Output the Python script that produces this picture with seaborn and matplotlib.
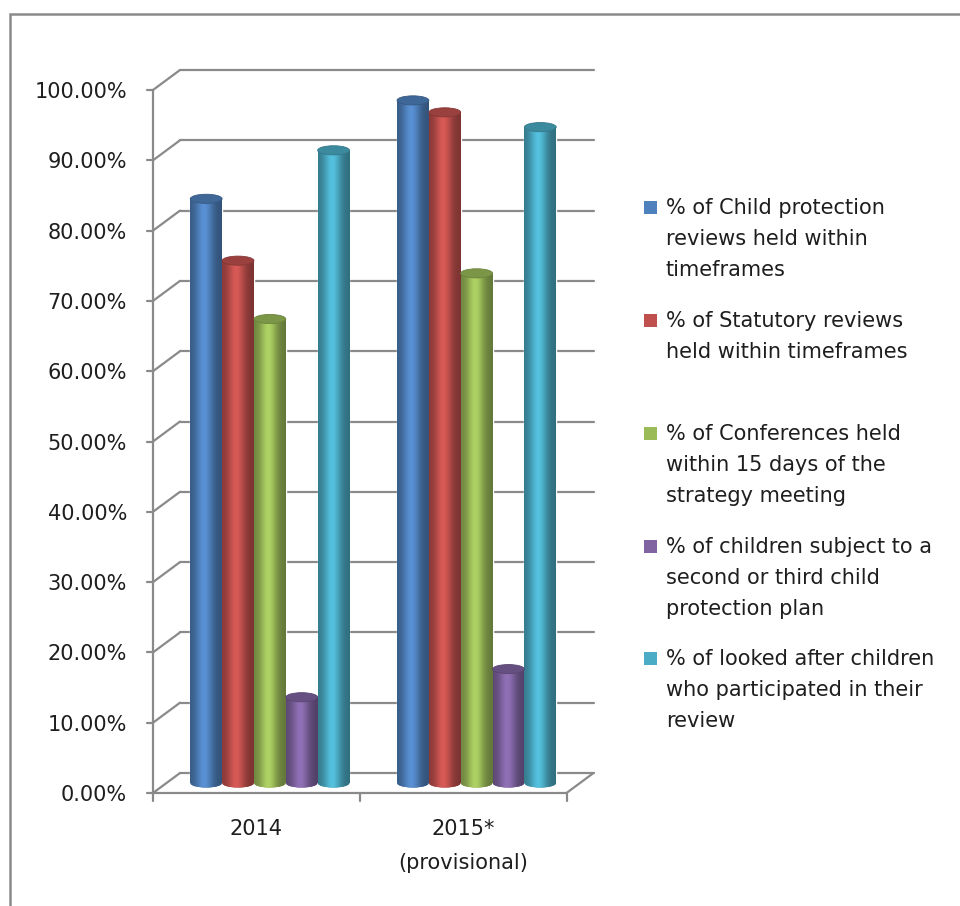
import numpy as np
import pandas as pd
import matplotlib
matplotlib.use("Agg")
import matplotlib.pyplot as plt
import seaborn as sns
from matplotlib.patches import Ellipse, Rectangle
from matplotlib.lines import Line2D

# ---- data -------------------------------------------------------------
years = ["2014", "2015*\n(provisional)"]
series_labels = [
    "% of Child protection\nreviews held within\ntimeframes",
    "% of Statutory reviews\nheld within timeframes",
    "% of Conferences held\nwithin 15 days of the\nstrategy meeting",
    "% of children subject to a\nsecond or third child\nprotection plan",
    "% of looked after children\nwho participated in their\nreview",
]
child_protection_reviews = [83.1, 97.1]
statutory_reviews = [74.3, 95.4]
conferences_in_15_days = [66.0, 72.5]
repeat_protection_plans = [12.2, 16.2]
lac_participation = [90.0, 93.3]
series_values = [
    child_protection_reviews,
    statutory_reviews,
    conferences_in_15_days,
    repeat_protection_plans,
    lac_participation,
]
colors = ["#4F81BD", "#C0504D", "#9BBB59", "#8064A2", "#4BACC6"]
y_ticks = [0, 10, 20, 30, 40, 50, 60, 70, 80, 90, 100]

df = pd.DataFrame(
    [(yr, lab, vals[i]) for lab, vals in zip(series_labels, series_values)
     for i, yr in enumerate(years)],
    columns=["year", "series", "value"],
)

# ---- figure -----------------------------------------------------------
sns.set_theme(style="white")
plt.rcParams["font.family"] = ["DejaVu Sans"]
W, H = 960, 906
fig = plt.figure(figsize=(W / 100, H / 100), dpi=100)
fig.patch.set_facecolor("white")

TXT = "#1e1e1e"
LINE = "#8a8a8a"
FS = 15

def fx(x):
    return x / W

def fy(y):
    return 1 - y / H

# axes placed on the middle (bar) plane of the 3-D box
YMIN, YMAX = -3, 103
ppu_y = 7.03
zero_px = 783
ax_bottom_px = zero_px - YMIN * ppu_y
ax_top_px = zero_px - YMAX * ppu_y
ax = fig.add_axes([fx(166.5), fy(ax_bottom_px), (580 - 166.5) / W,
                   (ax_bottom_px - ax_top_px) / H])

sns.barplot(data=df, x="year", y="value", hue="series", order=years,
            hue_order=series_labels, palette=colors, width=0.77, gap=0,
            saturation=1, errorbar=None, legend=False, ax=ax, zorder=2)
bars = list(ax.patches)
ax.set_xlim(-0.5, 1.5)
ax.set_ylim(YMIN, YMAX)
ax.axis("off")

ux = (580 - 166.5) / 2.0          # pixels per x unit
uy = ppu_y                        # pixels per y unit
DX = 13.5 / ux                    # depth offset of front / back planes
DY = 10 / uy

# ---- 3-D box: back wall grid, side wall, floor -------------------------
for v in y_ticks:
    ax.add_line(Line2D([-0.5 + DX, 1.5 + DX], [v + DY, v + DY], color=LINE,
                       lw=1.6, zorder=0.5, clip_on=False))
    ax.add_line(Line2D([-0.5 - DX, -0.5 + DX], [v - DY, v + DY], color=LINE,
                       lw=1.6, zorder=0.5, clip_on=False))
    ax.add_line(Line2D([-0.5 - DX - 6 / ux, -0.5 - DX], [v - DY, v - DY],
                       color=LINE, lw=1.6, zorder=0.5, clip_on=False))
    fig.text(fx(127), fy(zero_px + 10 - v * ppu_y + 2), f"{v:.2f}%",
             ha="right", va="center", fontsize=FS, color=TXT)

ax.add_line(Line2D([-0.5 - DX, -0.5 - DX], [-DY, 100 - DY], color=LINE,
                   lw=1.6, zorder=0.5, clip_on=False))
ax.add_line(Line2D([-0.5 - DX, 1.5 - DX, 1.5 + DX], [-DY, -DY, DY],
                   color=LINE, lw=1.6, zorder=0.5, clip_on=False))
for xt in (-0.5, 0.5, 1.5):
    ax.add_line(Line2D([xt - DX, xt - DX], [-DY, -DY - 8 / uy], color=LINE,
                       lw=1.6, zorder=0.5, clip_on=False))

# category labels under the front floor edge
for i, yr in enumerate(years):
    cx_px = 166.5 + (i + 0.5) * ux - 13.5
    fig.text(fx(cx_px), fy(819), yr, ha="center", va="top", fontsize=FS,
             color=TXT, linespacing=1.85)

# ---- cylinder shading on each bar --------------------------------------
t = np.linspace(0, 1, 80)
profile = 0.70 + 0.45 * np.exp(-((t - 0.45) / 0.27) ** 2) - 0.06 * t
EH = 1.3

for p in bars:
    x0, w, h = p.get_x(), p.get_width(), p.get_height()
    base = np.array(p.get_facecolor()[:3])
    grad = np.clip(base[None, :] * profile[:, None], 0, 1)
    img = np.tile(grad[None, :, :], (2, 1, 1))
    cx = x0 + w / 2

    bottom = Ellipse((cx, 0), w, EH, facecolor=base * 0.85, edgecolor="none",
                     zorder=1.9)
    ax.add_patch(bottom)
    im = ax.imshow(img, extent=[x0, x0 + w, -EH / 2, EH / 2], aspect="auto",
                   interpolation="bilinear", zorder=2.1)
    im.set_clip_path(bottom)

    ax.imshow(img, extent=[x0, x0 + w, 0, h], aspect="auto",
              interpolation="bilinear", zorder=2.2)
    ax.add_patch(Ellipse((cx, h), w, EH, facecolor=np.clip(base * 0.8, 0, 1),
                         edgecolor=np.clip(base * 0.7, 0, 1), lw=0.6,
                         zorder=2.4))

ax.set_xlim(-0.5, 1.5)
ax.set_ylim(YMIN, YMAX)

# ---- legend -----------------------------------------------------------
entry_y = [207, 320, 433, 546, 658]
for lab, col, y0 in zip(series_labels, colors, entry_y):
    fig.patches.append(Rectangle((fx(644), fy(y0 + 6.5)), 13 / W, 13 / H,
                                 transform=fig.transFigure, facecolor=col,
                                 edgecolor="none"))
    fig.text(fx(666), fy(y0 - 9), lab, ha="left", va="top", fontsize=FS,
             color=TXT, linespacing=1.68)

# ---- outer chart border -----------------------------------------------
fig.patches.append(Rectangle((fx(10), fy(H + 20)), (W + 20) / W, (H + 6) / H,
                             transform=fig.transFigure, facecolor="none",
                             edgecolor=LINE, lw=1.8))

fig.savefig("out.png", dpi=100, facecolor="white")
